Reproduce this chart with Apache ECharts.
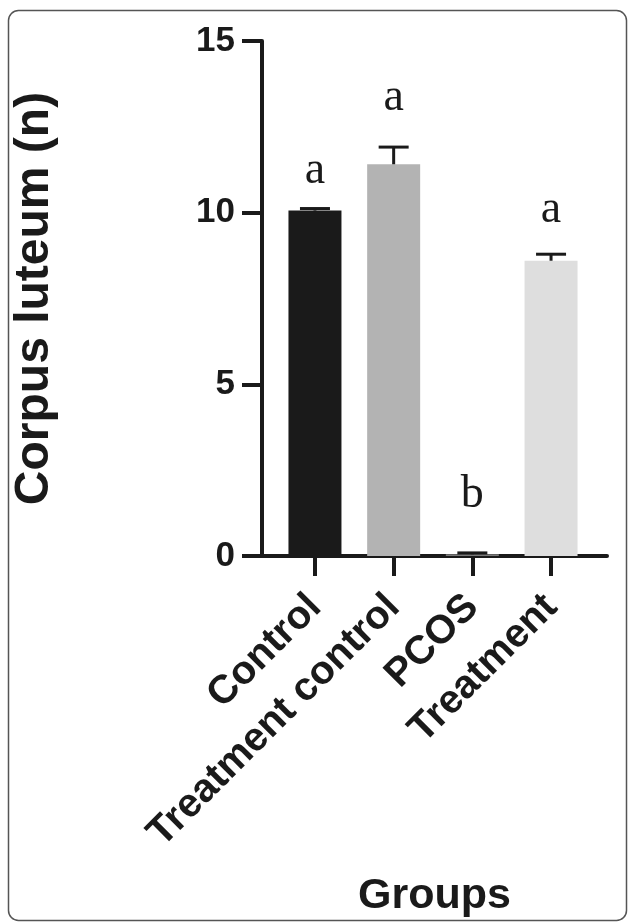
<!DOCTYPE html>
<html>
<head>
<meta charset="utf-8">
<script src="https://cdn.jsdelivr.net/npm/echarts@6/dist/echarts.min.js"></script>
<style>
html,body{margin:0;padding:0;background:#fff;}
#chart{width:629px;height:923px;}
</style>
</head>
<body>
<div id="chart"></div>
<script>
// ---- data ----
const categories = ['Control', 'Treatment control', 'PCOS', 'Treatment'];
const means = [10.06, 11.41, 0.05, 8.6];
const upperErr = [10.12, 11.91, 0.09, 8.79];
const letters = ['a', 'a', 'b', 'a'];
const letterY = [10.87, 12.99, 1.43, 9.73];   // baseline heights of the significance letters
const barColors = ['#1a1a1a', '#b3b3b3', '#7a7a7a', '#dedede'];
const yTicks = [0, 5, 10, 15];
const yTitle = 'Corpus luteum (n)';
const xTitle = 'Groups';

const INK = '#1a1a1a';
const SANS = '"Liberation Sans", Arial, sans-serif';
const SERIF = '"Liberation Serif", "Times New Roman", serif';
const LETTER_SIZE = 46;
const idx = categories.map((c, i) => i);

const chart = echarts.init(document.getElementById('chart'), null, {renderer: 'canvas'});
chart.setOption({
  backgroundColor: '#fff',
  animation: false,
  graphic: [{
    type: 'rect', silent: true,
    shape: {x: 8.5, y: 10.5, width: 618, height: 910, r: 10},
    style: {fill: 'none', stroke: '#555', lineWidth: 1.5}
  }],
  grid: {left: 262, top: 41, width: 345, height: 515, containLabel: false, outerBoundsMode: 'none'},
  xAxis: {
    type: 'value',
    min: -0.673, max: 3.711,
    name: xTitle,
    nameLocation: 'middle',
    nameGap: 319,
    nameTextStyle: {fontFamily: SANS, fontWeight: 'bold', fontSize: 43, color: INK},
    splitLine: {show: false},
    axisLine: {show: true, onZero: false, lineStyle: {color: INK, width: 4}},
    axisTick: {show: true, customValues: idx, length: 20, lineStyle: {color: INK, width: 4}},
    axisLabel: {
      customValues: idx,
      formatter: v => categories[Math.round(v)],
      rotate: 45, margin: 45,
      fontFamily: SANS, fontWeight: 'bold', fontSize: 40, color: INK
    }
  },
  yAxis: {
    type: 'value', min: 0, max: 15, interval: 5,
    name: yTitle,
    nameLocation: 'middle',
    nameGap: 203,
    nameRotate: 90,
    nameTextStyle: {fontFamily: SANS, fontWeight: 'bold', fontSize: 48, color: INK},
    splitLine: {show: false},
    axisLine: {show: true, onZero: false, lineStyle: {color: INK, width: 4}},
    axisTick: {show: true, length: 20, customValues: yTicks, lineStyle: {color: INK, width: 4}},
    axisLabel: {
      customValues: yTicks, margin: 27,
      fontFamily: SANS, fontWeight: 'bold', fontSize: 35, color: INK
    }
  },
  series: [
    {
      type: 'bar',
      barWidth: 53,
      data: means.map((m, i) => ({value: [i, m], itemStyle: {color: barColors[i]}})),
      z: 2
    },
    {
      type: 'custom',
      data: means.map((m, i) => [i, m, upperErr[i]]),
      renderItem(params, api) {
        const x = api.value(0), m = api.value(1), u = api.value(2);
        const p0 = api.coord([x, m]), p1 = api.coord([x, u]);
        const half = 15;
        return {type: 'group', children: [
          {type: 'line', shape: {x1: p0[0], y1: p0[1], x2: p1[0], y2: p1[1]}, style: {stroke: INK, lineWidth: 3}},
          {type: 'line', shape: {x1: p1[0] - half, y1: p1[1], x2: p1[0] + half, y2: p1[1]}, style: {stroke: INK, lineWidth: 3}}
        ]};
      },
      z: 3
    },
    {
      type: 'custom',
      data: letterY.map((y, i) => [i, y]),
      renderItem(params, api) {
        const p = api.coord([api.value(0), api.value(1)]);
        return {type: 'text', style: {
          text: letters[params.dataIndex], x: p[0], y: p[1] + LETTER_SIZE * 0.24,
          align: 'center', verticalAlign: 'bottom',
          font: LETTER_SIZE + 'px ' + SERIF, fill: INK
        }};
      },
      z: 4
    }
  ]
});
</script>
</body>
</html>
